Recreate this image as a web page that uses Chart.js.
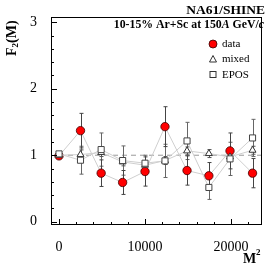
<!DOCTYPE html>
<html>
<head>
<meta charset="utf-8">
<script src="https://cdn.jsdelivr.net/npm/chart.js@4"></script>
<style>
  html, body { margin: 0; padding: 0; background: #fff; overflow: hidden; }
  canvas { display: block; }
</style>
</head>
<body>
<canvas id="f2Chart" width="270" height="267"></canvas>
<script>
// =============================
// DATA
// =============================
const mSquared = [1, 2500, 4900, 7396, 10000, 12321, 14884, 17424, 19881, 22500];

const dataF2  = [0.99, 1.37, 0.73, 0.59, 0.755, 1.43, 0.77, 0.69, 1.065, 0.73];
const dataErr = [0.03, 0.26, 0.20, 0.18, 0.22, 0.30, 0.22, 0.20, 0.27, 0.22];

const mixedF2  = [1.00, 1.01, 1.04, 0.90, 0.85, 0.92, 1.065, 1.025, 0.975, 1.075];
const mixedErr = [0.01, 0.07, 0.06, 0.06, 0.06, 0.06, 0.06, 0.06, 0.06, 0.06];

const eposF2  = [1.02, 0.925, 1.085, 0.92, 0.88, 0.915, 1.215, 0.515, 0.945, 1.26];
const eposErr = [0.03, 0.21, 0.25, 0.22, 0.12, 0.25, 0.28, 0.18, 0.25, 0.28];

const xTicks = [0, 10000, 20000];
const yTicks = [0, 1, 2, 3];
const refLevel = 1;

const SERIF = "'Liberation Serif', 'DejaVu Serif', serif";

function toPoints(ys) {
    return mSquared.map((x, i) => ({ x: x, y: ys[i] }));
}

// =============================
// PLUGINS
// =============================
const frameAndTicks = {
    id: "frameAndTicks",
    beforeDatasetsDraw(chart) {
        const { ctx, chartArea: a, scales } = chart;
        const xs = scales.x, ys = scales.y;

        // dashed reference line at F2 = 1
        ctx.save();
        ctx.strokeStyle = "#999";
        ctx.lineWidth = 1;
        ctx.setLineDash([5, 4]);
        ctx.beginPath();
        ctx.moveTo(xs.getPixelForValue(0), ys.getPixelForValue(refLevel));
        ctx.lineTo(a.right, ys.getPixelForValue(refLevel));
        ctx.stroke();
        ctx.restore();

        // error bars
        ctx.save();
        chart.data.datasets.forEach(ds => {
            if (!ds.errors) return;
            ctx.strokeStyle = ds.errColor;
            ctx.lineWidth = 1;
            ds.data.forEach((p, i) => {
                const px = Math.round(xs.getPixelForValue(p.x)) + 0.5;
                const top = ys.getPixelForValue(p.y + ds.errors[i]);
                const bot = ys.getPixelForValue(p.y - ds.errors[i]);
                ctx.beginPath();
                ctx.moveTo(px, top);
                ctx.lineTo(px, bot);
                ctx.moveTo(px - 2, top);
                ctx.lineTo(px + 2, top);
                ctx.moveTo(px - 2, bot);
                ctx.lineTo(px + 2, bot);
                ctx.stroke();
            });
        });
        ctx.restore();
    },
    afterDraw(chart) {
        const { ctx, chartArea: a, scales } = chart;
        const xs = scales.x, ys = scales.y;
        ctx.save();
        ctx.strokeStyle = "#000";
        ctx.lineWidth = 1;
        ctx.strokeRect(a.left + 0.5, a.top + 0.5, a.right - a.left - 1, a.bottom - a.top - 1);

        ctx.beginPath();
        // x ticks, pointing up
        for (let v = 0; v <= xs.max; v += 2000) {
            const px = Math.round(xs.getPixelForValue(v)) + 0.5;
            const len = v % 10000 === 0 ? 6 : 3;
            ctx.moveTo(px, a.bottom);
            ctx.lineTo(px, a.bottom - len);
        }
        // y ticks, pointing right
        for (let k = 0; k <= 15; k++) {
            const v = k * 0.2;
            const py = Math.round(ys.getPixelForValue(v)) + 0.5;
            const len = k % 5 === 0 ? 6 : 3;
            ctx.moveTo(a.left, py);
            ctx.lineTo(a.left + len, py);
        }
        ctx.stroke();

        // texts
        ctx.fillStyle = "#000";
        ctx.textBaseline = "middle";
        ctx.textAlign = "right";
        ctx.font = "bold 13.5px " + SERIF;
        ctx.fillText("NA61/SHINE", 265, 11);

        // 10-15% Ar+Sc at 150A GeV/c
        const parts = [
            ["10-15% Ar+Sc at 150", "bold "],
            ["A", "italic bold "],
            [" GeV/", "bold "],
            ["c", "italic bold "]
        ];
        ctx.textAlign = "left";
        let total = 0;
        parts.forEach(p => { ctx.font = p[1] + "11.8px " + SERIF; total += ctx.measureText(p[0]).width; });
        let tx = 264 - total;
        parts.forEach(p => {
            ctx.font = p[1] + "11.8px " + SERIF;
            ctx.fillText(p[0], tx, 25);
            tx += ctx.measureText(p[0]).width;
        });

        // legend
        const lx = 213;
        ctx.lineWidth = 0.8;
        ctx.beginPath();
        ctx.arc(lx, 44, 4, 0, Math.PI * 2);
        ctx.fillStyle = "#f00";
        ctx.fill();
        ctx.strokeStyle = "#300";
        ctx.stroke();

        ctx.strokeStyle = "#333";
        ctx.lineWidth = 1;
        ctx.beginPath();
        ctx.moveTo(lx, 55.5);
        ctx.lineTo(lx + 3.5, 62);
        ctx.lineTo(lx - 3.5, 62);
        ctx.closePath();
        ctx.stroke();
        ctx.strokeRect(lx - 3, 71.5, 6, 6);

        ctx.fillStyle = "#000";
        ctx.font = "11px " + SERIF;
        ctx.fillText("data", 222, 44);
        ctx.fillText("mixed", 222, 59.5);
        ctx.fillText("EPOS", 222, 75);

        // y title
        ctx.save();
        ctx.translate(12, 56);
        ctx.rotate(-Math.PI / 2);
        ctx.textAlign = "left";
        ctx.font = "bold 14px " + SERIF;
        ctx.fillText("F", 0, 0);
        let w = ctx.measureText("F").width;
        ctx.font = "bold 9px " + SERIF;
        ctx.fillText("2", w, 4);
        w += ctx.measureText("2").width;
        ctx.font = "bold 14px " + SERIF;
        ctx.fillText("(M)", w, 0);
        ctx.restore();

        // x title
        ctx.textAlign = "left";
        ctx.font = "bold 14px " + SERIF;
        ctx.fillText("M", 243, 259);
        ctx.font = "bold 9px " + SERIF;
        ctx.fillText("2", 256, 253);
        ctx.restore();
    }
};

// =============================
// CHART
// =============================
const canvas = document.getElementById("f2Chart");

new Chart(canvas, {
    type: "line",
    data: {
        datasets: [
            {
                label: "EPOS",
                data: toPoints(eposF2),
                errors: eposErr,
                errColor: "#666",
                borderColor: "#cfcfcf",
                borderWidth: 1,
                pointStyle: "rect",
                pointRadius: 4.3,
                pointBackgroundColor: "#fff",
                pointBorderColor: "#444",
                pointBorderWidth: 1,
                tension: 0
            },
            {
                label: "mixed",
                data: toPoints(mixedF2),
                errors: mixedErr,
                errColor: "#555",
                borderColor: "#cfcfcf",
                borderWidth: 1,
                pointStyle: "triangle",
                pointRadius: 4,
                pointBackgroundColor: "#fff",
                pointBorderColor: "#333",
                pointBorderWidth: 1,
                tension: 0
            },
            {
                label: "data",
                data: toPoints(dataF2),
                errors: dataErr,
                errColor: "#444",
                borderColor: "#cfcfcf",
                borderWidth: 1,
                pointStyle: "circle",
                pointRadius: 4.2,
                pointBackgroundColor: "#f00",
                pointBorderColor: "#400",
                pointBorderWidth: 0.8,
                tension: 0
            }
        ]
    },
    options: {
        responsive: false,
        devicePixelRatio: 1,
        animation: false,
        layout: { padding: { left: 0, right: 8, top: 17, bottom: 0 } },
        plugins: {
            legend: { display: false },
            tooltip: { enabled: false }
        },
        scales: {
            x: {
                type: "linear",
                min: -930,
                max: 23600,
                grid: { display: false },
                border: { display: false },
                afterBuildTicks: s => { s.ticks = xTicks.map(v => ({ value: v })); },
                afterFit: s => { s.height = 42; },
                ticks: {
                    color: "#000",
                    padding: 6,
                    maxRotation: 0,
                    font: { family: SERIF, size: 14 },
                    callback: v => String(v)
                }
            },
            y: {
                type: "linear",
                min: -0.05,
                max: 3.08,
                grid: { display: false },
                border: { display: false },
                afterBuildTicks: s => { s.ticks = yTicks.map(v => ({ value: v })); },
                afterFit: s => { s.width = 51; },
                ticks: {
                    color: "#000",
                    padding: 6,
                    font: { family: SERIF, size: 14 },
                    callback: v => String(v)
                }
            }
        }
    },
    plugins: [frameAndTicks]
});
</script>
</body>
</html>
